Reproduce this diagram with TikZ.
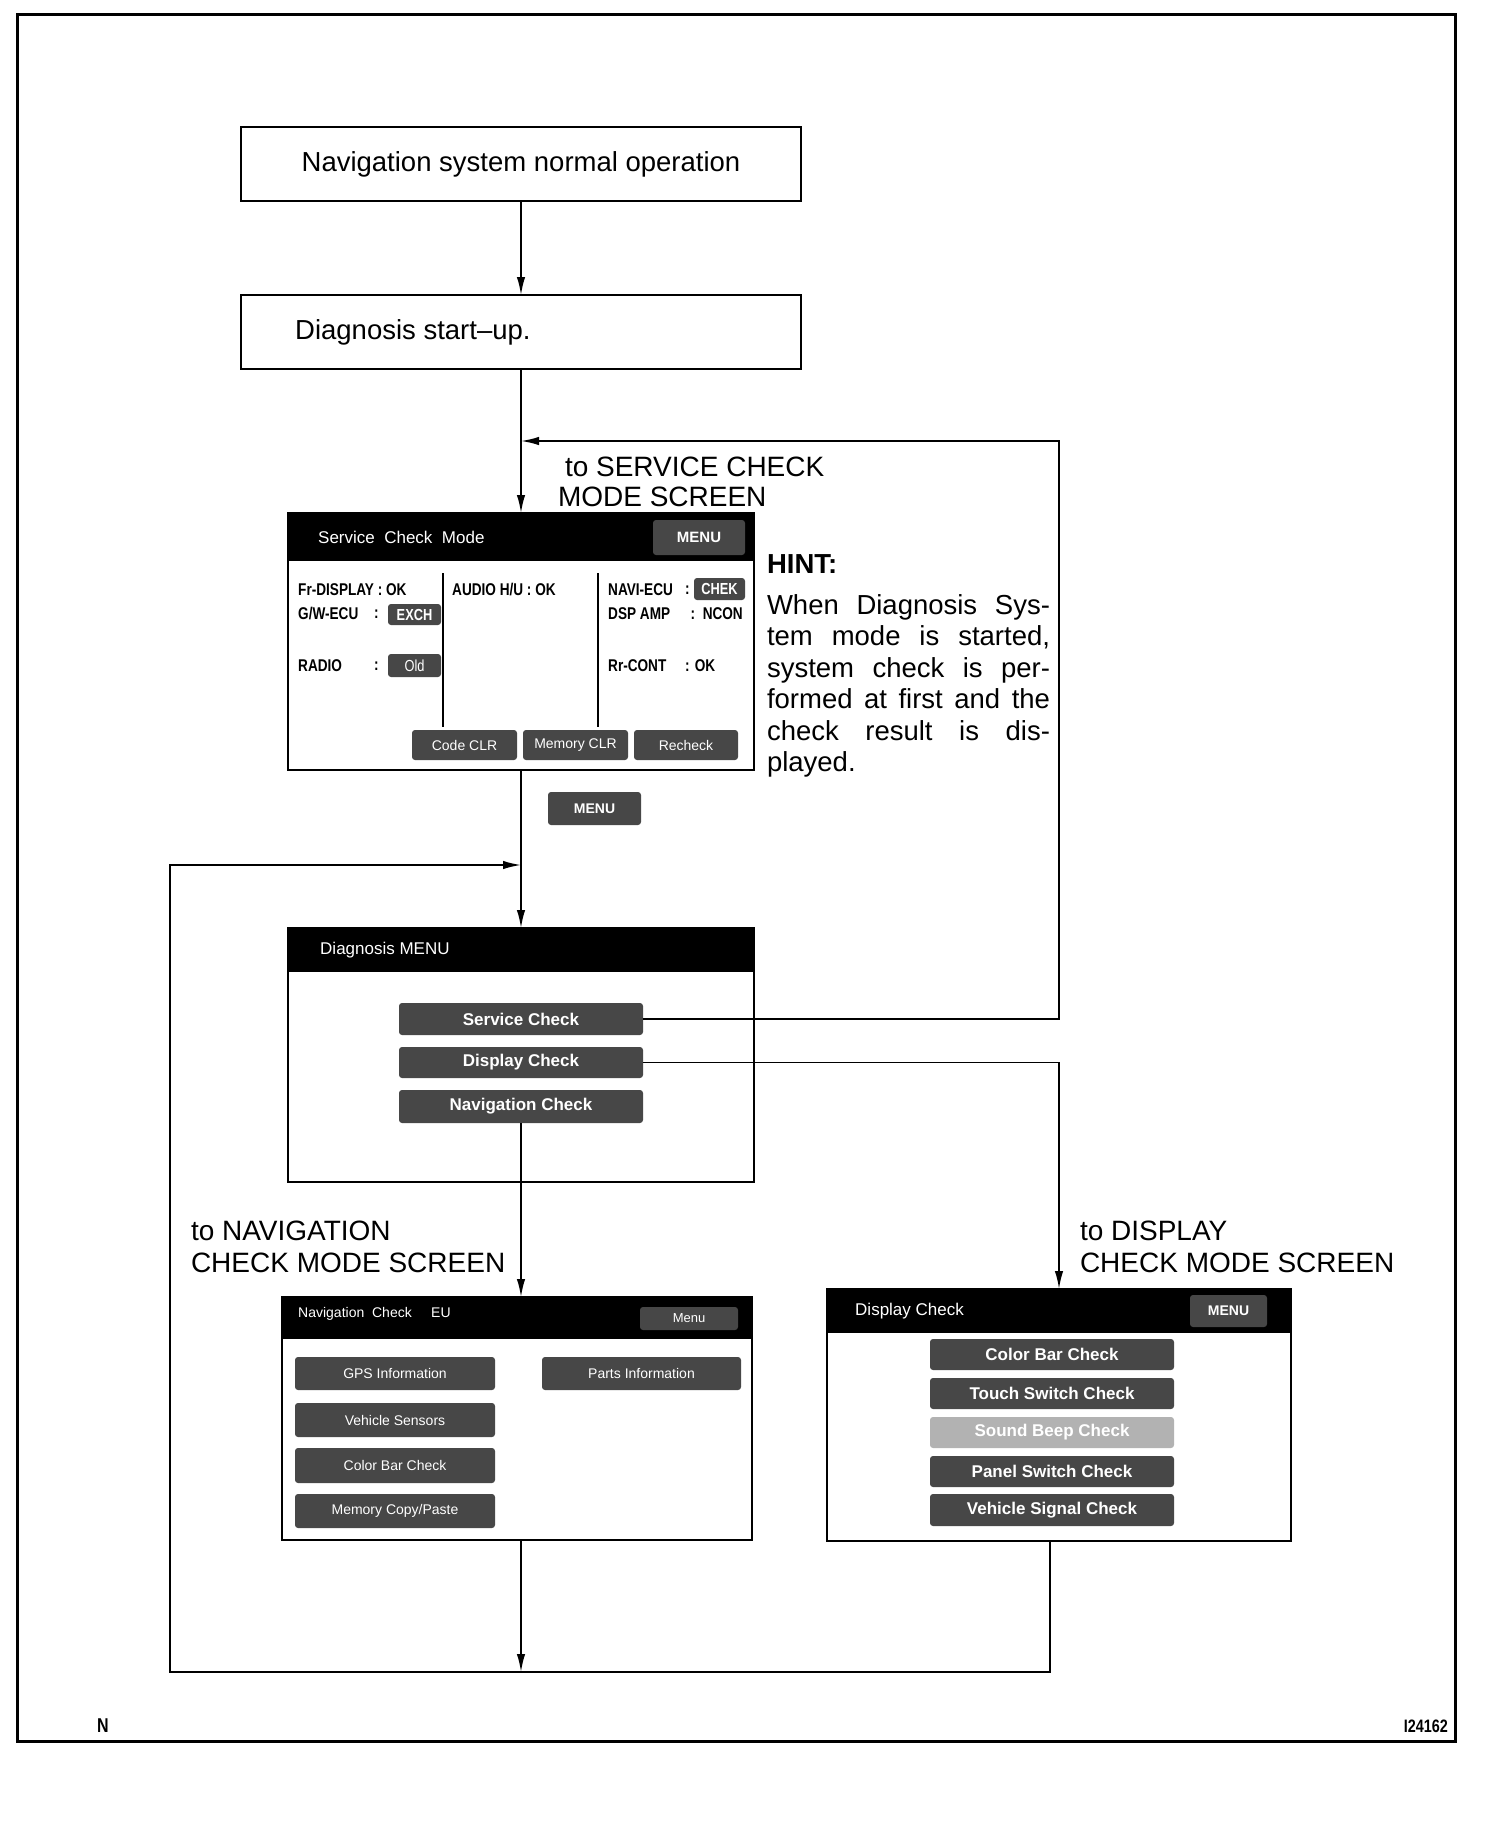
\documentclass[tikz,border=0pt]{standalone}
\usepackage{fontspec}
\setmainfont{Liberation Sans}
\newfontfamily\narrowfont[FakeStretch=0.8]{Liberation Sans}
\usetikzlibrary{arrows.meta,calc}
\newcommand{\fs}[1]{\fontsize{#1}{#1}\selectfont}
\begin{document}
\begin{tikzpicture}[x=1pt,y=-1pt,
  box/.style={draw, line width=1.2pt, inner sep=0pt, outer sep=0pt},
  scr/.style={draw, line width=1.6pt, inner sep=0pt, outer sep=0pt},
  bar/.style={fill=black, inner sep=0pt, outer sep=0pt},
  btn/.style={fill=black!72, rounded corners=3pt, inner sep=0pt, outer sep=0pt, text=white},
  btnb/.style={btn, font=\bfseries\fs{17}},
  btns/.style={btn, font=\fs{14}},
  btnlight/.style={btn, fill=black!30, font=\bfseries\fs{17}},
  conn/.style={line width=1.8pt},
  arr/.style={conn, -{Latex[length=18pt,width=8.5pt]}},
  big/.style={font=\fs{28}, inner sep=0pt, outer sep=0pt, anchor=base west},
  scrtitle/.style={text=white, font=\fs{17}, anchor=west, inner sep=0pt},
  scmtxt/.style={font=\narrowfont\bfseries\fs{17}, anchor=west, inner sep=0pt},
  hint/.style={font=\fs{27.5}, inner sep=0pt, outer sep=0pt, anchor=base west}
]
\useasboundingbox (0,0) rectangle (1504,1830);
% frame
\draw[line width=3pt] (17,15) rectangle (1455,1741);
\node[font=\narrowfont\bfseries\fs{20}, inner sep=0pt] (nlab) at (103,1726) {N};
\node[font=\narrowfont\bfseries\fs{18}, inner sep=0pt, anchor=east] (idlab) at (1448,1726) {I24162};

% top boxes
\node[box, minimum width=560pt, minimum height=74pt] (b1) at (521,164)
  {\fs{27.5}Navigation system normal operation};
\node[box, minimum width=560pt, minimum height=74pt] (b2) at (521,332) {};
\node[font=\fs{27.5}, inner sep=0pt, anchor=west] (b2t) at (295,332) {Diagnosis start--up.};

% Service check mode screen
\node[scr, minimum width=466pt, minimum height=257pt] (scm) at (521,641.5) {};
\node[bar, minimum width=466pt, minimum height=48pt, anchor=north] (scmbar) at (scm.north) {};
\node[scrtitle] (scmt) at (318,537) {Service\ \ Check\ \ Mode};
\node[btn, font=\bfseries\fs{15}, minimum width=92pt, minimum height=35pt] (scmmenu) at (699,537.5) {MENU};
\draw[line width=1.2pt] (443,573) -- (443,727);
\draw[line width=1.2pt] (598,573) -- (598,727);
\node[scmtxt] (t1) at (298,590) {Fr-DISPLAY : OK};
\node[scmtxt] (t2) at (298,614) {G/W-ECU};
\node[scmtxt] (t2c) at (374,614) {:};
\node[btn, font=\narrowfont\bfseries\fs{16}, minimum width=53pt, minimum height=21pt] (exch) at (414.5,614.5) {EXCH};
\node[scmtxt] (t3) at (298,666) {RADIO};
\node[scmtxt] (t3c) at (374,666) {:};
\node[btn, font=\narrowfont\fs{16}, minimum width=53pt, minimum height=23pt] (old) at (414.5,665.5) {Old};
\node[scmtxt] (t4) at (452,590) {AUDIO H/U : OK};
\node[scmtxt] (t5) at (608,590) {NAVI-ECU};
\node[scmtxt] (t5c) at (685,590) {:};
\node[btn, font=\narrowfont\bfseries\fs{16}, minimum width=51pt, minimum height=22pt] (chek) at (719.5,589) {CHEK};
\node[scmtxt] (t6) at (608,614) {DSP AMP};
\node[scmtxt, anchor=east] (t6c) at (743,614) {:\ \ NCON};
\node[scmtxt] (t7) at (608,666) {Rr-CONT};
\node[scmtxt] (t7c) at (685,666) {: OK};
\node[btns, minimum width=105pt, minimum height=30pt] (codeclr) at (464.5,745) {Code CLR};
\node[btns, minimum width=105pt, minimum height=30pt] (memclr) at (575.5,745) {Memory CLR};
\node[btns, minimum width=104pt, minimum height=30pt] (rechk) at (686,745) {Recheck};

% standalone MENU button
\node[btn, font=\bfseries\fs{14}, minimum width=93pt, minimum height=33pt] (menu) at (594.5,808.5) {MENU};

% Diagnosis MENU screen
\node[scr, minimum width=466pt, minimum height=254pt] (dm) at (521,1055) {};
\node[bar, minimum width=466pt, minimum height=44pt, anchor=north] (dmbar) at (dm.north) {};
\node[scrtitle] (dmt) at (320,950) {Diagnosis\ MENU};
\node[btnb, minimum width=244pt, minimum height=32pt] (svc) at (521,1019) {Service\ Check};
\node[btnb, minimum width=244pt, minimum height=31pt] (dsp) at (521,1062.5) {Display\ Check};
\node[btnb, minimum width=244pt, minimum height=33pt] (navb) at (521,1106.5) {Navigation\ Check};

% Navigation check screen
\node[scr, minimum width=470pt, minimum height=243pt] (navscr) at (517,1418.5) {};
\node[bar, minimum width=470pt, minimum height=42pt, anchor=north] (navbar) at (navscr.north) {};
\node[scrtitle, font=\fs{14}] (navt) at (298,1314) {Navigation\ \ Check\ \ \ \ \ EU};
\node[btns, font=\fs{13}, minimum width=98pt, minimum height=23pt] (navmenu) at (689,1318.5) {Menu};
\node[btns, minimum width=200pt, minimum height=33pt] (gps) at (395,1373.5) {GPS Information};
\node[btns, minimum width=199pt, minimum height=33pt] (parts) at (641.5,1373.5) {Parts Information};
\node[btns, minimum width=200pt, minimum height=34pt] (vsens) at (395,1420) {Vehicle Sensors};
\node[btns, minimum width=200pt, minimum height=35pt] (ncbar) at (395,1465.5) {Color Bar Check};
\node[btns, minimum width=200pt, minimum height=34pt] (mcopy) at (395,1511) {Memory Copy/Paste};

% Display check screen
\node[scr, minimum width=464pt, minimum height=252pt] (dscr) at (1059,1415) {};
\node[bar, minimum width=464pt, minimum height=44pt, anchor=north] (dbar) at (dscr.north) {};
\node[scrtitle] (dt) at (855,1311) {Display Check};
\node[btn, font=\bfseries\fs{14}, minimum width=77pt, minimum height=32pt] (dmenu) at (1228.5,1311) {MENU};
\node[btnb, minimum width=244pt, minimum height=31pt] (cbc) at (1052,1354.5) {Color\ Bar\ Check};
\node[btnb, minimum width=244pt, minimum height=31pt] (tsc) at (1052,1393.5) {Touch\ Switch\ Check};
\node[btnlight, minimum width=244pt, minimum height=31pt] (sbc) at (1052,1432.5) {Sound\ Beep\ Check};
\node[btnb, minimum width=244pt, minimum height=31pt] (psc) at (1052,1471.5) {Panel Switch\ Check};
\node[btnb, minimum width=244pt, minimum height=32pt] (vsc) at (1052,1510) {Vehicle\ Signal\ Check};

% labels
\node[big] (ls1) at (565,476) {to SERVICE CHECK};
\node[big] (ls2) at (558,506) {MODE SCREEN};
\node[big] (ln1) at (191,1240) {to NAVIGATION};
\node[big] (ln2) at (191,1272) {CHECK MODE SCREEN};
\node[big] (ld1) at (1080,1240) {to DISPLAY};
\node[big] (ld2) at (1080,1272) {CHECK MODE SCREEN};

% hint
\node[hint] (h0) at (767,573) {\bfseries HINT:};
\node[hint] (h1) at (767,614) {\makebox[283pt][s]{When Diagnosis Sys-}};
\node[hint] (h2) at (767,645.5) {\makebox[283pt][s]{tem mode is started,}};
\node[hint] (h3) at (767,677) {\makebox[283pt][s]{system check is per-}};
\node[hint] (h4) at (767,708.5) {\makebox[283pt][s]{formed at first and the}};
\node[hint] (h5) at (767,740) {\makebox[283pt][s]{check result is dis-}};
\node[hint] (h6) at (767,771.5) {played.};

% connector points
\coordinate (rt) at (1059,441);
\coordinate (j1) at (521,441);
\coordinate (j2) at (521,865);
\coordinate (tl) at (170,865);
\coordinate (bl) at (170,1672);
\coordinate (j3) at (521,1672);

% connectors
\draw[arr] (b1.south) -- (b2.north);
\draw[arr] (b2.south) -- (scm.north);
\draw[arr] (scm.south) -- (dm.north);
\draw[arr] (svc.east) -- (svc.east -| rt) -- (rt) -- (j1);
\draw[arr] (dsp.east) -- (dsp.east -| dscr.north) -- (dscr.north);
\draw[arr] (navb.south) -- (navb.south |- navscr.north);
\draw[arr] (navscr.south -| navb.south) -- (j3);
\draw[arr] ($(dscr.south)+(-9,0)$) |- (bl) -- (tl) -- (j2);
\end{tikzpicture}
\end{document}
